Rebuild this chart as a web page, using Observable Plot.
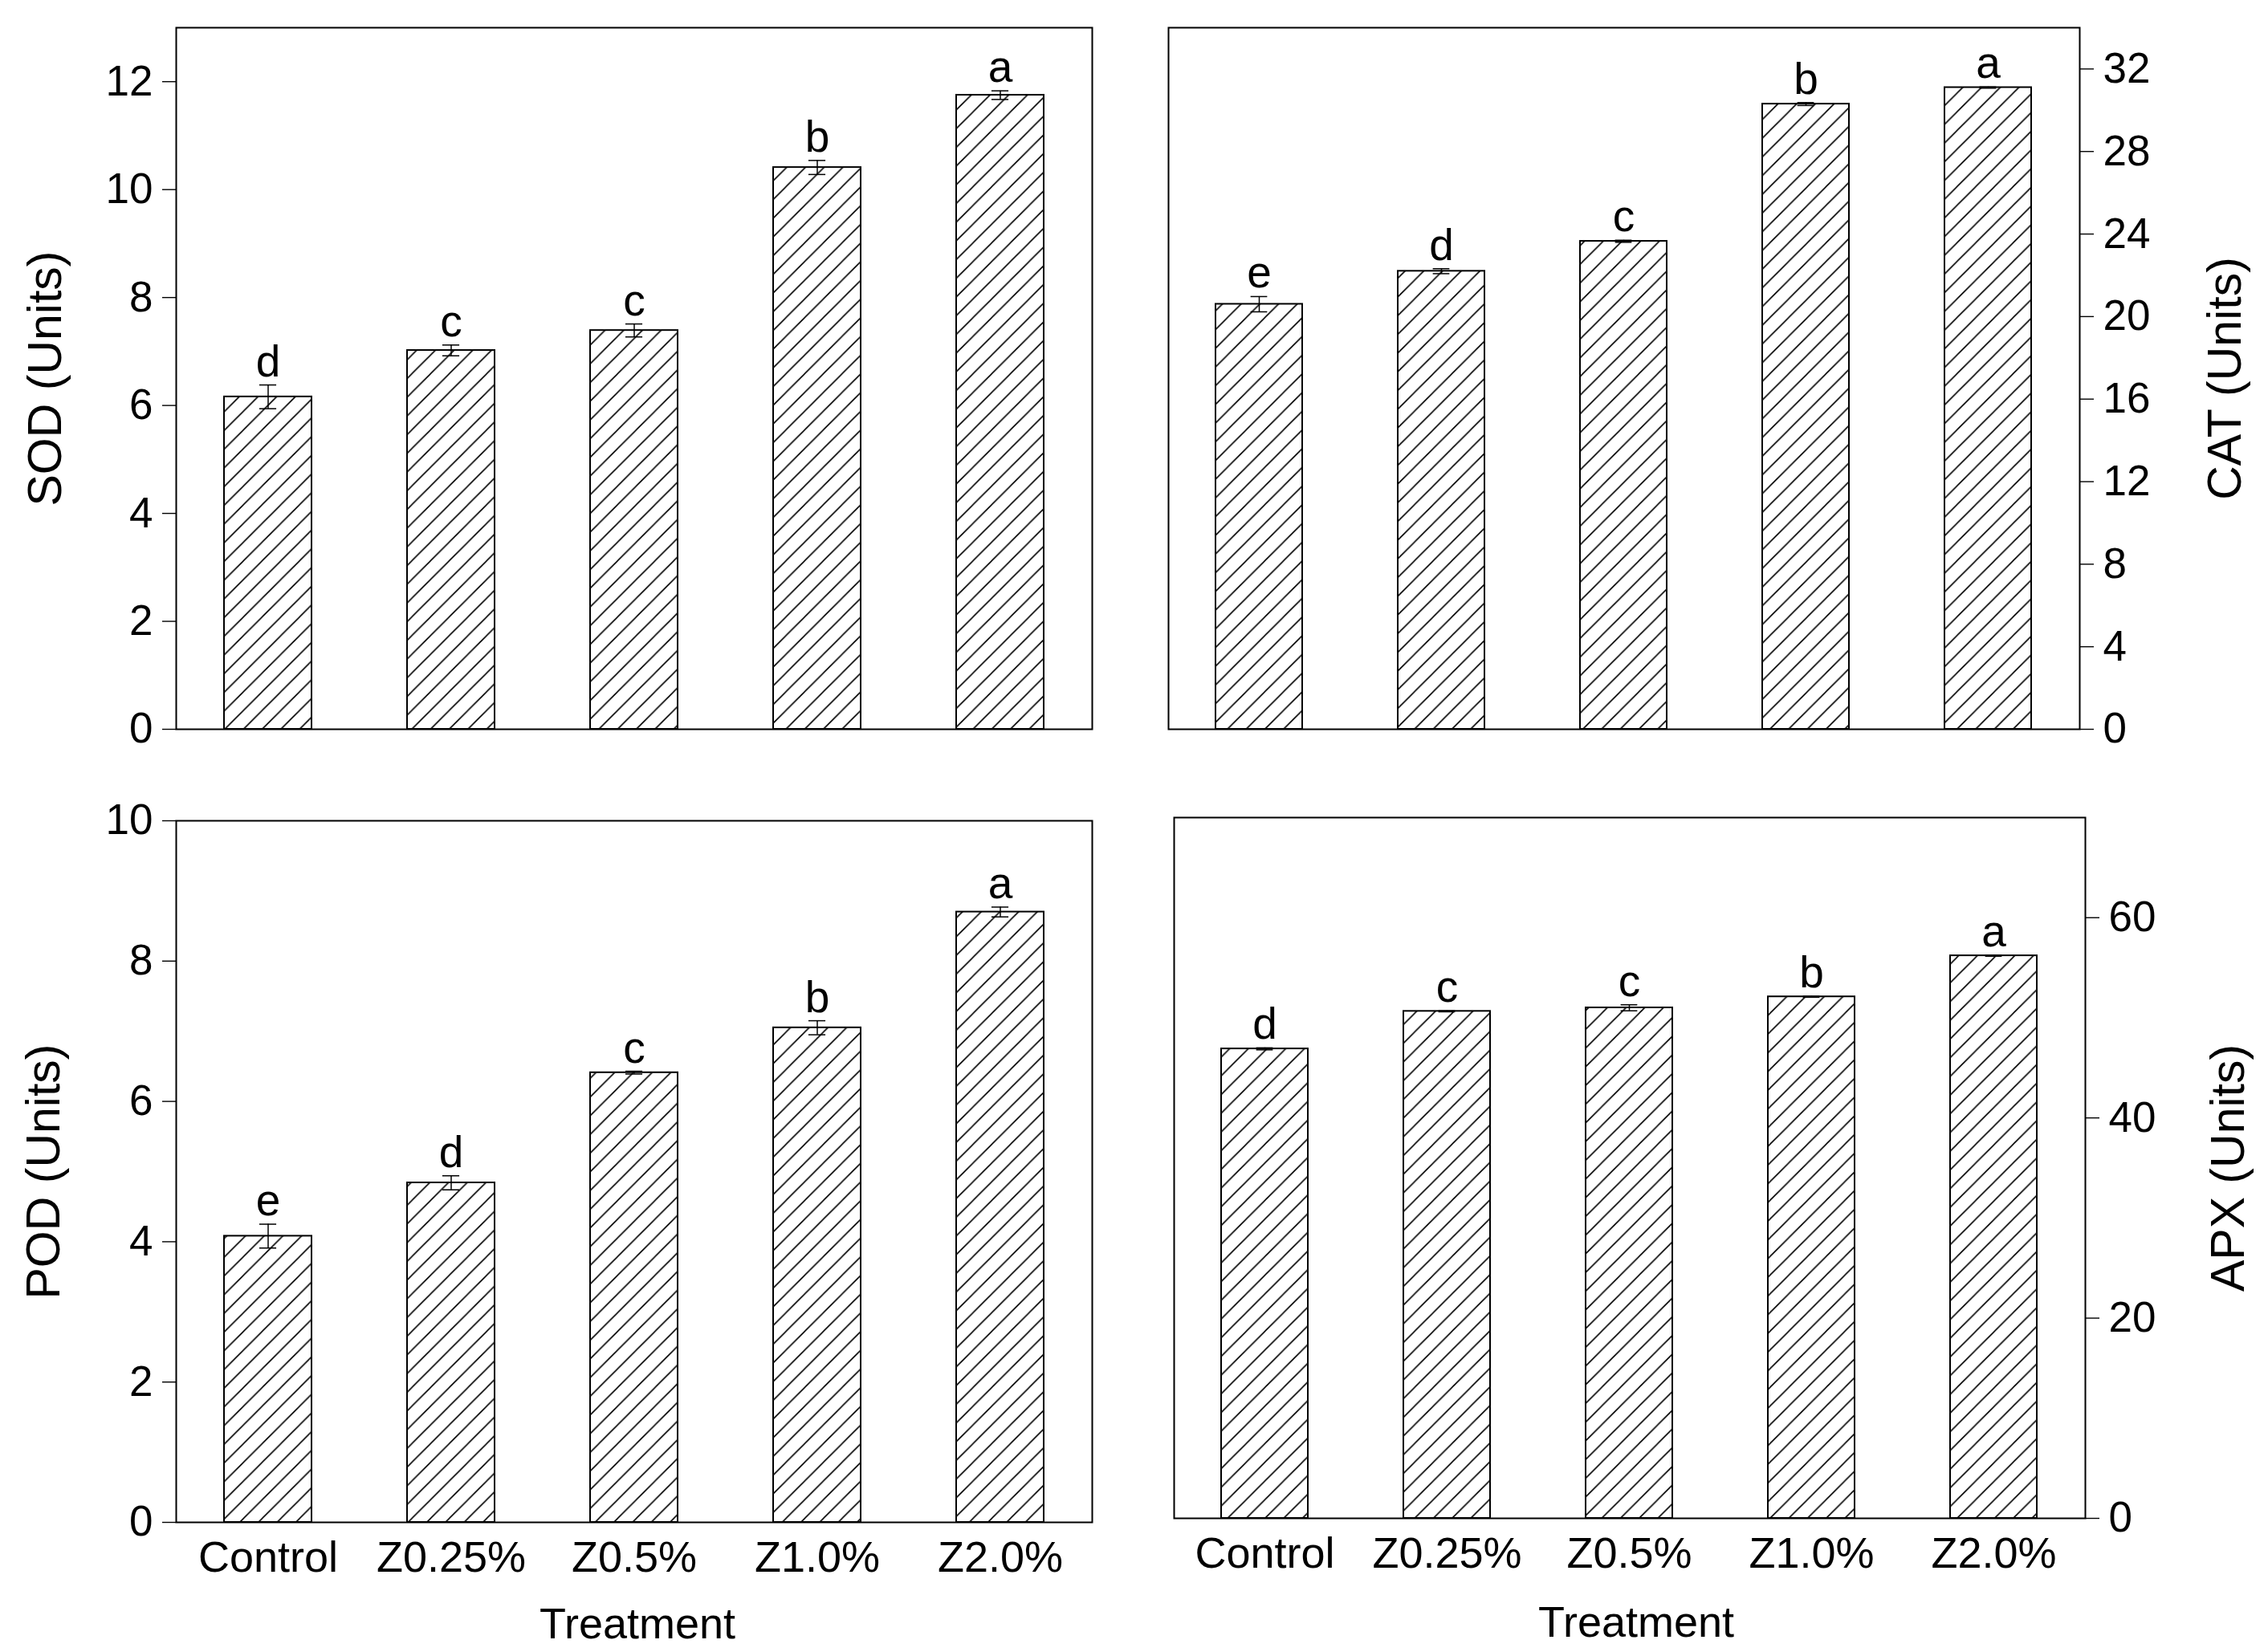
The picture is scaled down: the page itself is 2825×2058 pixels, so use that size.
<!DOCTYPE html>
<html>
<head>
<meta charset="utf-8">
<script src="https://cdn.jsdelivr.net/npm/d3@7"></script>
<script src="https://cdn.jsdelivr.net/npm/@observablehq/plot@0.6"></script>
<style>
  html, body { margin: 0; padding: 0; background: #fff; }
  #wrap { position: relative; width: 2825px; height: 2058px; background: #fff; font-family: "Liberation Sans", Arial, sans-serif; }
  #wrap > .panel { position: absolute; }
</style>
</head>
<body>
<svg width="0" height="0" style="position:absolute">
  <defs>
    <pattern id="hatch" patternUnits="userSpaceOnUse" width="23.3" height="23.3">
      <path d="M-5.825,5.825 L5.825,-5.825 M0,23.3 L23.3,0 M17.475,29.125 L29.125,17.475" stroke="#000" stroke-width="1.6" fill="none"/>
    </pattern>
  </defs>
</svg>
<div id="wrap"></div>
<script>
// ---- data ----
const categories = ["Control", "Z0.25%", "Z0.5%", "Z1.0%", "Z2.0%"];

const sodMean = [6.16, 7.02, 7.39, 10.41, 11.75];
const sodErr = [0.22, 0.10, 0.12, 0.13, 0.08];
const sodLetters = ["d", "c", "c", "b", "a"];
const sodTicks = [0, 2, 4, 6, 8, 10, 12];

const catMean = [20.6, 22.2, 23.65, 30.3, 31.1];
const catErr = [0.37, 0.12, 0.05, 0.07, 0.03];
const catLetters = ["e", "d", "c", "b", "a"];
const catTicks = [0, 4, 8, 12, 16, 20, 24, 28, 32];

const podMean = [4.08, 4.84, 6.41, 7.05, 8.70];
const podErr = [0.17, 0.10, 0.02, 0.10, 0.07];
const podLetters = ["e", "d", "c", "b", "a"];
const podTicks = [0, 2, 4, 6, 8, 10];

const apxMean = [46.9, 50.65, 51.0, 52.1, 56.2];
const apxErr = [0.10, 0.05, 0.30, 0.05, 0.05];
const apxLetters = ["d", "c", "c", "b", "a"];
const apxTicks = [0, 20, 40, 60];

const xTitle = "Treatment";

// ---- drawing ----
const FONT = "Liberation Sans, Arial, sans-serif";
const padInner = 0.523;

function panel(cfg) {
  const rows = categories.map((c, i) => ({cat: c, v: cfg.mean[i], e: cfg.err[i], l: cfg.letters[i]}));
  const frameW = cfg.width - cfg.ml - cfg.mr;
  const bw = (frameW / categories.length) * (1 - padInner);
  const capInset = (bw - 21) / 2;
  const right = cfg.side === "right";
  const marks = [
    Plot.barY(rows, {x: "cat", y: "v", fill: "url(#hatch)", stroke: "#000", strokeWidth: 2}),
    Plot.ruleX(rows, {x: "cat", y1: d => d.v - d.e, y2: d => d.v + d.e, stroke: "#000", strokeWidth: 1.5}),
    Plot.tickY(rows, {x: "cat", y: d => d.v + d.e, stroke: "#000", strokeWidth: 1.5, insetLeft: capInset, insetRight: capInset}),
    Plot.tickY(rows, {x: "cat", y: d => d.v - d.e, stroke: "#000", strokeWidth: 1.5, insetLeft: capInset, insetRight: capInset}),
    Plot.text(rows, {x: "cat", y: d => d.v + d.e, text: "l", dy: -11, lineAnchor: "bottom", fontSize: 55, fill: "#000", fontFamily: FONT}),
    Plot.frame({stroke: "#000", strokeWidth: 2}),
    Plot.axisY({anchor: cfg.side, ticks: cfg.ticks, tickSize: 17, tickPadding: 12, fontSize: 53, label: null, strokeWidth: 1.4, fontFamily: FONT}),
    Plot.text([cfg.title], {frameAnchor: right ? "right" : "left", text: d => d, rotate: -90, dx: cfg.titleDx,
      fontSize: 59, textAnchor: "middle", lineAnchor: "middle", fill: "#000", fontFamily: FONT})
  ];
  if (cfg.bottom) {
    marks.push(Plot.axisX({tickSize: 0, tickPadding: 23, fontSize: 54, label: null, fontFamily: FONT}));
    marks.push(Plot.text([xTitle], {frameAnchor: "bottom", text: d => d, dy: cfg.xTitleDy, dx: cfg.xTitleDx,
      lineAnchor: "bottom", textAnchor: "middle", fontSize: 54, fill: "#000", fontFamily: FONT}));
  }
  const p = Plot.plot({
    width: cfg.width, height: cfg.height,
    marginLeft: cfg.ml, marginRight: cfg.mr, marginTop: cfg.mt, marginBottom: cfg.mb,
    style: {fontFamily: FONT, fontSize: "53px", color: "#000", background: "transparent", overflow: "visible"},
    x: {type: "band", domain: categories, paddingInner: padInner, paddingOuter: padInner / 2, axis: null},
    y: {domain: cfg.domain, axis: null},
    marks
  });
  p.classList.add("panel");
  p.style.left = cfg.left + "px";
  p.style.top = cfg.top + "px";
  document.getElementById("wrap").appendChild(p);
}

panel({left: 0, top: 0, width: 1412, height: 960, ml: 219, mr: 52, mt: 34, mb: 52,
  mean: sodMean, err: sodErr, letters: sodLetters, ticks: sodTicks, domain: [0, 13],
  side: "left", title: "SOD (Units)", titleDx: -162, bottom: false});

panel({left: 1412, top: 0, width: 1413, height: 960, ml: 43, mr: 235, mt: 34, mb: 52,
  mean: catMean, err: catErr, letters: catLetters, ticks: catTicks, domain: [0, 34],
  side: "right", title: "CAT (Units)", titleDx: 182, bottom: false});

panel({left: 0, top: 960, width: 1412, height: 1098, ml: 219, mr: 52, mt: 62, mb: 162,
  mean: podMean, err: podErr, letters: podLetters, ticks: podTicks, domain: [0, 10],
  side: "left", title: "POD (Units)", titleDx: -164, bottom: true, xTitleDy: 144, xTitleDx: 4});

panel({left: 1412, top: 960, width: 1413, height: 1098, ml: 50, mr: 228, mt: 58, mb: 167,
  mean: apxMean, err: apxErr, letters: apxLetters, ticks: apxTicks, domain: [0, 70],
  side: "right", title: "APX (Units)", titleDx: 179, bottom: true, xTitleDy: 147, xTitleDx: 8});
</script>
</body>
</html>
